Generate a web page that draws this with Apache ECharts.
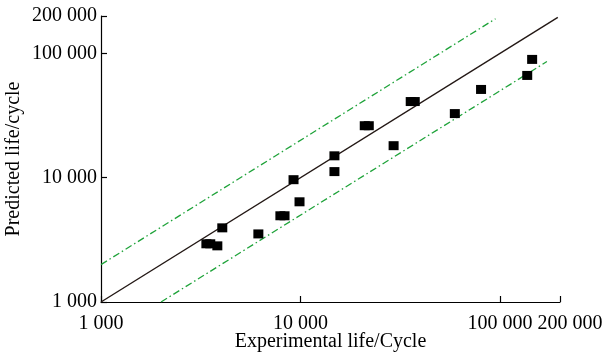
<!DOCTYPE html>
<html>
<head>
<meta charset="utf-8">
<script src="https://cdn.jsdelivr.net/npm/echarts@6/dist/echarts.min.js"></script>
<style>
  html, body { margin: 0; padding: 0; background: #fff; }
  #chart { width: 603px; height: 353px; }
</style>
</head>
<body>
<div id="chart"></div>
<script>
// Fatigue life: experimental vs predicted cycles (log-log)
const experimental = [3375, 3530, 3830, 4055, 6150, 7930, 8320, 9230, 9890, 14800, 14800, 21000, 22000, 29300, 35700, 37400, 59400, 80400, 137000, 145000];
const predicted    = [2940, 2940, 2830, 3950, 3530, 4940, 4940, 9640, 6400, 15000, 11200, 26200, 26200, 18100, 41000, 41000, 32800, 51300, 66500, 89500];

// Reference lines: perfect agreement and factor-of-two scatter band
const lineEqual = [[1000, 1000], [195000, 195000]];
const lineUpper = [[1000, 2000], [95000, 190000]];
const lineLower = [[2000, 1000], [172000, 86000]];

const tickValues = [1000, 10000, 100000, 200000];

const fmt = v => String(Math.round(v)).replace(/\B(?=(\d{3})+(?!\d))/g, ' ');

const font = 'Liberation Serif, Times New Roman, serif';

const chart = echarts.init(document.getElementById('chart'), null, { renderer: 'canvas' });

const axisCommon = {
  type: 'log',
  logBase: 10,
  min: 1000,
  max: 200000,
  nameLocation: 'middle',
  nameMoveOverlap: false,
  nameTextStyle: { fontFamily: font, fontSize: 20, color: '#000' },
  axisLine: { show: true, lineStyle: { color: '#000', width: 1.2 } },
  axisTick: { show: true, inside: true, length: 6, lineStyle: { color: '#000', width: 1.2 }, customValues: tickValues },
  axisLabel: { fontFamily: font, fontSize: 20, color: '#000', formatter: fmt, customValues: tickValues, interval: 0, hideOverlap: false },
  splitLine: { show: false },
  minorTick: { show: false }
};

const green = '#1fa33a';
const dashDot = [7, 3, 1.5, 3];

chart.setOption({
  animation: false,
  backgroundColor: '#fff',
  grid: { left: 101, right: 43, top: 16, bottom: 51, containLabel: false, outerBoundsMode: 'none' },
  xAxis: Object.assign({}, axisCommon, {
    name: 'Experimental life/Cycle',
    nameGap: 30,
    axisLabel: Object.assign({}, axisCommon.axisLabel, {
      margin: 12,
      // the last label sits a little to the right of its tick
      formatter: v => v >= 200000 ? '{r|' + fmt(v) + '}' : fmt(v),
      rich: { r: { fontFamily: font, fontSize: 20, color: '#000', padding: [0, 0, 0, 20] } }
    })
  }),
  yAxis: Object.assign({}, axisCommon, {
    name: 'Predicted life/cycle',
    nameGap: 77,
    axisLabel: Object.assign({}, axisCommon.axisLabel, { margin: 4 })
  }),
  series: [
    {
      type: 'line', data: lineEqual, symbol: 'none', silent: true,
      lineStyle: { color: '#231815', width: 1.4 }
    },
    {
      type: 'line', data: lineUpper, symbol: 'none', silent: true,
      lineStyle: { color: green, width: 1.3, type: dashDot }
    },
    {
      type: 'line', data: lineLower, symbol: 'none', silent: true,
      lineStyle: { color: green, width: 1.3, type: dashDot }
    },
    {
      type: 'scatter',
      data: experimental.map((x, i) => [x, predicted[i]]),
      symbol: 'rect',
      symbolSize: [10, 9],
      itemStyle: { color: '#000', opacity: 1 },
      z: 5
    }
  ]
});
</script>
</body>
</html>
